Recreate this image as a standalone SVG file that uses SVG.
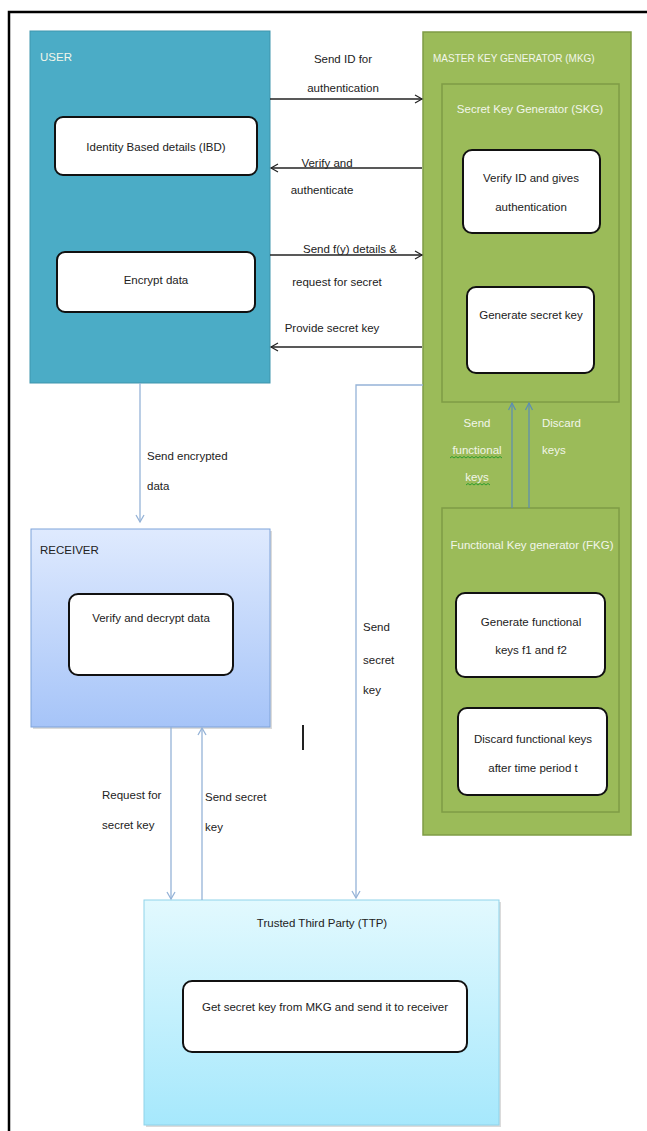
<svg xmlns="http://www.w3.org/2000/svg" width="647" height="1131" viewBox="0 0 647 1131">
<defs>
<style>
text{font-family:"Liberation Sans",Arial,sans-serif;font-size:11.5px;fill:#222}
.w{fill:#f2f6ea}
.c{text-anchor:middle}
.inner{fill:#fff;stroke:#111;stroke-width:2}
.blk{stroke:#222;stroke-width:1.3;fill:none}
.blu{stroke:#95b3d7;stroke-width:1.3;fill:none}
.stl{stroke:#5b8db5;stroke-width:1.2;fill:none}
.grn{fill:#9bbb59;stroke:#7f9c46;stroke-width:1.5}
</style>
<marker id="ab" markerWidth="10" markerHeight="10" refX="8" refY="5" orient="auto" markerUnits="userSpaceOnUse"><path d="M1 1 L8 5 L1 9" fill="none" stroke="#222" stroke-width="1.2"/></marker>
<marker id="au" markerWidth="10" markerHeight="10" refX="8" refY="5" orient="auto" markerUnits="userSpaceOnUse"><path d="M1 1 L8 5 L1 9" fill="none" stroke="#95b3d7" stroke-width="1.3"/></marker>
<marker id="as" markerWidth="10" markerHeight="10" refX="8" refY="5" orient="auto" markerUnits="userSpaceOnUse"><path d="M1 1.5 L8 5 L1 8.5" fill="none" stroke="#5b8db5" stroke-width="1.2"/></marker>
<linearGradient id="grec" x1="0" y1="0" x2="0" y2="1"><stop offset="0" stop-color="#dfeafe"/><stop offset="1" stop-color="#a6c4f8"/></linearGradient>
<linearGradient id="gttp" x1="0" y1="0" x2="0" y2="1"><stop offset="0" stop-color="#e2f9fe"/><stop offset="1" stop-color="#a6e8fc"/></linearGradient>
</defs>
<rect width="647" height="1131" fill="#fff"/>
<path d="M9 1131 V12 H647" fill="none" stroke="#000" stroke-width="2.5"/>

<g id="user">
<rect x="30" y="31" width="240" height="352" fill="#4bacc6" stroke="#3f95ad" stroke-width="1"/>
<text class="w" x="40" y="61">USER</text>
</g>
<g id="ibd">
<rect class="inner" x="55" y="117" width="202" height="58" rx="8"/>
<text class="c" x="156" y="151">Identity Based details (IBD)</text>
</g>
<g id="encrypt">
<rect class="inner" x="57" y="252" width="198" height="60" rx="8"/>
<text class="c" x="156" y="284">Encrypt data</text>
</g>

<g id="mkg">
<rect class="grn" x="423" y="32" width="208" height="803" stroke="#8aa84f"/>
<text class="w" x="433" y="62" font-size="10" style="font-size:10px">MASTER KEY GENERATOR (MKG)</text>
</g>
<g id="skg">
<rect class="grn" x="442" y="84" width="177" height="318"/>
<text class="w c" x="530" y="113">Secret Key Generator (SKG)</text>
</g>
<g id="verifyid">
<rect class="inner" x="463" y="150" width="137" height="83" rx="9"/>
<text class="c" x="531" y="182">Verify ID and gives</text>
<text class="c" x="531" y="211">authentication</text>
</g>
<g id="gensecret">
<rect class="inner" x="467" y="287" width="127" height="86" rx="9"/>
<text class="c" x="531" y="319">Generate secret key</text>
</g>
<g id="fkg">
<rect class="grn" x="442" y="508" width="177" height="304"/>
<text class="w c" x="532" y="549">Functional Key generator (FKG)</text>
</g>
<g id="genfunc">
<rect class="inner" x="456" y="593" width="149" height="84" rx="9"/>
<text class="c" x="531" y="626">Generate functional</text>
<text class="c" x="531" y="654">keys f1 and f2</text>
</g>
<g id="discard">
<rect class="inner" x="458" y="708" width="149" height="87" rx="9"/>
<text class="c" x="533" y="743">Discard functional keys</text>
<text class="c" x="533" y="772">after time period t</text>
</g>

<g id="receiver">
<rect x="33" y="531" width="239" height="198" fill="#b8b8b8" opacity="0.5"/>
<rect x="31" y="529" width="239" height="198" fill="url(#grec)" stroke="#7fa3d9" stroke-width="1"/>
<text x="40" y="554">RECEIVER</text>
</g>
<g id="decrypt">
<rect class="inner" x="69" y="594" width="164" height="81" rx="9"/>
<text class="c" x="151" y="622">Verify and decrypt data</text>
</g>

<g id="ttp">
<rect x="146" y="902" width="355" height="225" fill="#b8b8b8" opacity="0.5"/>
<rect x="144" y="900" width="355" height="225" fill="url(#gttp)" stroke="#8fd3ea" stroke-width="1"/>
<text class="c" x="322" y="927">Trusted Third Party (TTP)</text>
</g>
<g id="getsecret">
<rect class="inner" x="183" y="981" width="284" height="71" rx="9"/>
<text class="c" x="325" y="1011">Get secret key from MKG and send it to receiver</text>
</g>

<g id="connectors">
<line class="blk" x1="270" y1="99" x2="422" y2="99" marker-end="url(#ab)"/>
<line class="blk" x1="422" y1="168" x2="271" y2="168" marker-end="url(#ab)"/>
<line class="blk" x1="270" y1="255" x2="422" y2="255" marker-end="url(#ab)"/>
<line class="blk" x1="422" y1="347" x2="271" y2="347" marker-end="url(#ab)"/>
<line class="blu" x1="140" y1="383" x2="140" y2="522" marker-end="url(#au)"/>
<path class="blu" d="M423 385 H356 V898" marker-end="url(#au)"/>
<line class="blu" x1="171" y1="727" x2="171" y2="899" marker-end="url(#au)"/>
<line class="blu" x1="202" y1="900" x2="202" y2="728" marker-end="url(#au)"/>
<line class="stl" x1="512" y1="508" x2="512" y2="403" marker-end="url(#as)"/>
<line class="stl" x1="529" y1="508" x2="529" y2="403" marker-end="url(#as)"/>
<line x1="303" y1="725" x2="303" y2="750" stroke="#222" stroke-width="2"/>
</g>

<g id="labels">
<text class="c" x="343" y="63">Send ID for</text>
<text class="c" x="343" y="92">authentication</text>
<text class="c" x="327" y="167">Verify and</text>
<text class="c" x="322" y="194">authenticate</text>
<text class="c" x="350" y="253">Send f(y) details &amp;</text>
<text class="c" x="337" y="286">request for secret</text>
<text class="c" x="332" y="332">Provide secret key</text>
<text x="147" y="460">Send encrypted</text>
<text x="147" y="490">data</text>
<text x="363" y="631">Send</text>
<text x="363" y="664">secret</text>
<text x="363" y="694">key</text>
<text x="102" y="799">Request for</text>
<text x="102" y="829">secret key</text>
<text x="205" y="801">Send secret</text>
<text x="205" y="831">key</text>
<text class="w c" x="477" y="427">Send</text>
<text class="w c" x="477" y="454">functional</text>
<text class="w c" x="477" y="481">keys</text>
<text class="w" x="542" y="427">Discard</text>
<text class="w" x="542" y="454">keys</text>
<path d="M450 458 l2 -1.5 l2 1.5 l2 -1.5 l2 1.5 l2 -1.5 l2 1.5 l2 -1.5 l2 1.5 l2 -1.5 l2 1.5 l2 -1.5 l2 1.5 l2 -1.5 l2 1.5 l2 -1.5 l2 1.5 l2 -1.5 l2 1.5 l2 -1.5 l2 1.5 l2 -1.5 l2 1.5 l2 -1.5 l2 1.5 l2 -1.5 l2 1.5" fill="none" stroke="#2e9e2e" stroke-width="1"/>
<path d="M466 485 l2 -1.5 l2 1.5 l2 -1.5 l2 1.5 l2 -1.5 l2 1.5 l2 -1.5 l2 1.5 l2 -1.5 l2 1.5 l2 -1.5 l2 1.5" fill="none" stroke="#2e9e2e" stroke-width="1"/>
</g>
</svg>
